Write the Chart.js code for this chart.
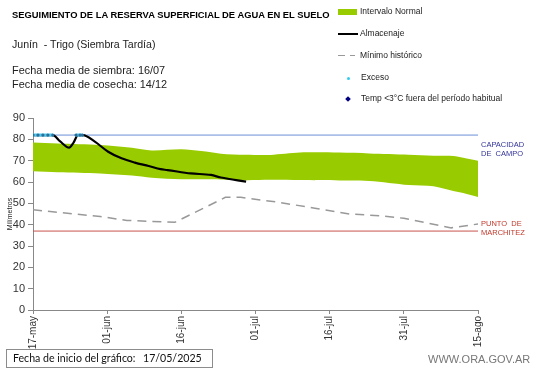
<!DOCTYPE html>
<html>
<head>
<meta charset="utf-8">
<script src="https://cdn.jsdelivr.net/npm/chart.js@4.4.1/dist/chart.umd.min.js"></script>
<style>
  html, body { margin: 0; padding: 0; background: #fff; }
  #wrap { position: relative; width: 541px; height: 368px; overflow: hidden; font-family: "Liberation Sans", Arial, sans-serif; }
  #chart { position: absolute; left: 0; top: 0; }
  .txt { position: absolute; white-space: nowrap; color: #000; }
  .lg { position: absolute; font-size: 8.5px; color: #222; white-space: nowrap; }
  .note { position: absolute; font-size: 7.5px; line-height: 9px; white-space: nowrap; }
</style>
</head>
<body>
<div id="wrap">
  <canvas id="chart" width="541" height="368"></canvas>

  <div class="txt" style="left:12px;top:9px;font-size:9.4px;font-weight:bold;">SEGUIMIENTO DE LA RESERVA SUPERFICIAL DE AGUA EN EL SUELO</div>
  <div class="txt" style="left:12px;top:38px;font-size:10.6px;color:#222;">Junín&nbsp; - Trigo (Siembra Tardía)</div>
  <div class="txt" style="left:12px;top:64px;font-size:10.9px;color:#222;">Fecha media de siembra: 16/07</div>
  <div class="txt" style="left:12px;top:78px;font-size:10.9px;color:#222;">Fecha media de cosecha: 14/12</div>

  <!-- leyenda -->
  <div style="position:absolute;left:338px;top:9px;width:19px;height:6px;background:#99cc00;"></div>
  <div class="lg" style="left:360px;top:6px;">Intervalo Normal</div>
  <div style="position:absolute;left:338px;top:33px;width:20px;height:2px;background:#000;"></div>
  <div class="lg" style="left:360px;top:28px;">Almacenaje</div>
  <div style="position:absolute;left:338px;top:55px;width:7px;height:1px;background:#999;"></div>
  <div style="position:absolute;left:350px;top:55px;width:5px;height:1px;background:#999;"></div>
  <div class="lg" style="left:360px;top:50px;">Mínimo histórico</div>
  <div style="position:absolute;left:347px;top:77px;width:3px;height:3px;background:#33ccee;border-radius:50%;"></div>
  <div class="lg" style="left:361px;top:72px;">Exceso</div>
  <div style="position:absolute;left:346px;top:97px;width:4px;height:4px;background:#000080;transform:rotate(45deg);"></div>
  <div class="lg" style="left:361px;top:93px;">Temp &lt;3°C fuera del período habitual</div>

  <!-- referencias -->
  <div class="note" style="left:481px;top:140px;color:#333399;">CAPACIDAD<br>DE&nbsp; CAMPO</div>
  <div class="note" style="left:481px;top:219px;color:#c0392b;">PUNTO&nbsp; DE<br>MARCHITEZ</div>

  <!-- pie -->
  <div style="position:absolute;left:6px;top:349px;width:205px;height:17px;border:1px solid #8c8c8c;"></div>
  <div class="txt" style="left:13px;top:352px;font-size:10.6px;font-family:Lato,sans-serif;color:#111;">Fecha de inicio del gráfico:</div>
  <div class="txt" style="left:143px;top:352px;font-size:10.6px;font-family:Lato,sans-serif;color:#111;">17/05/2025</div>
  <div class="txt" style="left:428px;top:353px;font-size:11px;color:#777;">WWW.ORA.GOV.AR</div>
</div>

<script>
// Eje X: días desde el 17-may
const tickLabels = ['17-may', '01-jun', '16-jun', '01-jul', '16-jul', '31-jul', '15-ago'];
const yTicks = [0, 10, 20, 30, 40, 50, 60, 70, 80, 90];

// Intervalo normal (banda)
const normalDays  = [0, 5, 13.6, 20, 24, 30, 34, 38, 43, 48, 54, 62, 68, 76, 81, 85, 87, 90];
const normalUpper = [78.5, 78, 77.3, 76, 74.8, 75.3, 74.5, 73.3, 72.8, 72.7, 73.8, 73.8, 73.4, 72.8, 72.3, 72.2, 71.4, 70];
const normalLower = [65, 64.6, 64, 63, 62, 61.3, 61.3, 61.2, 60.8, 61, 60.9, 60.7, 60.5, 58.6, 58, 55.8, 54.8, 53];

// Almacenaje
const almDays = [0, 4, 5.5, 7.3, 8.2, 9.1, 10.1, 12.5, 15.2, 17.9, 20.6, 23.4, 25.8, 27.2, 31.9, 36, 38, 43.1];
const almVals = [82, 82, 79, 76.1, 78.5, 82, 82, 78.9, 74.2, 71.1, 69.1, 67.5, 66, 65.6, 64, 63.3, 62.1, 60.2];

// Mínimo histórico
const minDays = [0, 13.6, 19, 28.7, 38.9, 42, 49.7, 57, 64, 70, 75, 84.6, 90];
const minVals = [47, 43.8, 42, 41.1, 52.8, 52.8, 50.5, 47.7, 45, 44.2, 43, 38.5, 40.3];

// Exceso (días con reserva sobre capacidad de campo)
const excesoDays = [0, 1, 2, 3, 4, null, 8.7, 9.5, 10];
const excesoVals = [82, 82, 82, 82, 82, null, 82, 82, 82];

// Umbrales
const capacidadCampo = 82;
const puntoMarchitez = 37;

const pts = (xs, ys) => xs.map((x, i) => ({ x: x, y: ys[i] }));

const ctx = document.getElementById('chart').getContext('2d');
const chart = new Chart(ctx, {
  type: 'line',
  data: {
    datasets: [
      { label: 'sup', data: pts(normalDays, normalUpper), borderWidth: 0, pointRadius: 0,
        backgroundColor: '#99cc00', fill: '+1', tension: 0.3, order: 5 },
      { label: 'inf', data: pts(normalDays, normalLower), borderWidth: 0, pointRadius: 0,
        fill: false, tension: 0.3, order: 5 },
      { label: 'cc', data: [{ x: 0, y: capacidadCampo }, { x: 90, y: capacidadCampo }],
        borderColor: '#6b8fd6', borderWidth: 1, pointRadius: 0, order: 4 },
      { label: 'pm', data: [{ x: 0, y: puntoMarchitez }, { x: 90, y: puntoMarchitez }],
        borderColor: '#c9544f', borderWidth: 1, pointRadius: 0, order: 4 },
      { label: 'Mínimo histórico', data: pts(minDays, minVals), borderColor: '#999999',
        borderWidth: 1.5, borderDash: [9, 6], pointRadius: 0, tension: 0, order: 3 },
      { label: 'Almacenaje', data: pts(almDays, almVals), borderColor: '#000',
        borderWidth: 2.2, pointRadius: 0, cubicInterpolationMode: 'monotone', order: 2 },
      { label: 'Exceso', data: excesoDays.map((x, i) => x === null ? { x: 6, y: null } : { x: x, y: excesoVals[i] }),
        borderColor: '#4fc8ec', borderWidth: 3, pointRadius: 1.6, pointBackgroundColor: '#2a6f9a',
        pointBorderWidth: 0, spanGaps: false, order: 1 }
    ]
  },
  options: {
    responsive: false,
    animation: false,
    layout: { padding: { left: 0, right: 63, top: 118, bottom: 18 } },
    plugins: { legend: { display: false }, tooltip: { enabled: false } },
    scales: {
      x: {
        type: 'linear', min: 0, max: 90,
        afterFit: s => { s.height = 40; },
        afterBuildTicks: s => { s.ticks = tickLabels.map((t, i) => ({ value: i * 15 })); },
        ticks: {
          autoSkip: false, maxRotation: 90, minRotation: 90, padding: 2,
          color: '#333', font: { family: 'Liberation Sans, Arial', size: 10 },
          callback: (v) => tickLabels[Math.round(v / 15)]
        },
        grid: { drawOnChartArea: false, tickLength: 4, color: '#888' },
        border: { color: '#888' }
      },
      y: {
        min: 0, max: 90,
        afterFit: s => { s.width = 33; },
        afterBuildTicks: s => { s.ticks = yTicks.map(v => ({ value: v })); },
        ticks: { color: '#333', padding: 3, font: { family: 'Liberation Sans, Arial', size: 11 } },
        grid: { drawOnChartArea: false, tickLength: 5, color: '#888' },
        border: { color: '#888' },
        title: { display: true, text: 'Milímetros', color: '#222', padding: { top: 6, bottom: 0 },
                 font: { family: 'Liberation Sans, Arial', size: 7 } }
      }
    }
  }
});
</script>
</body>
</html>
